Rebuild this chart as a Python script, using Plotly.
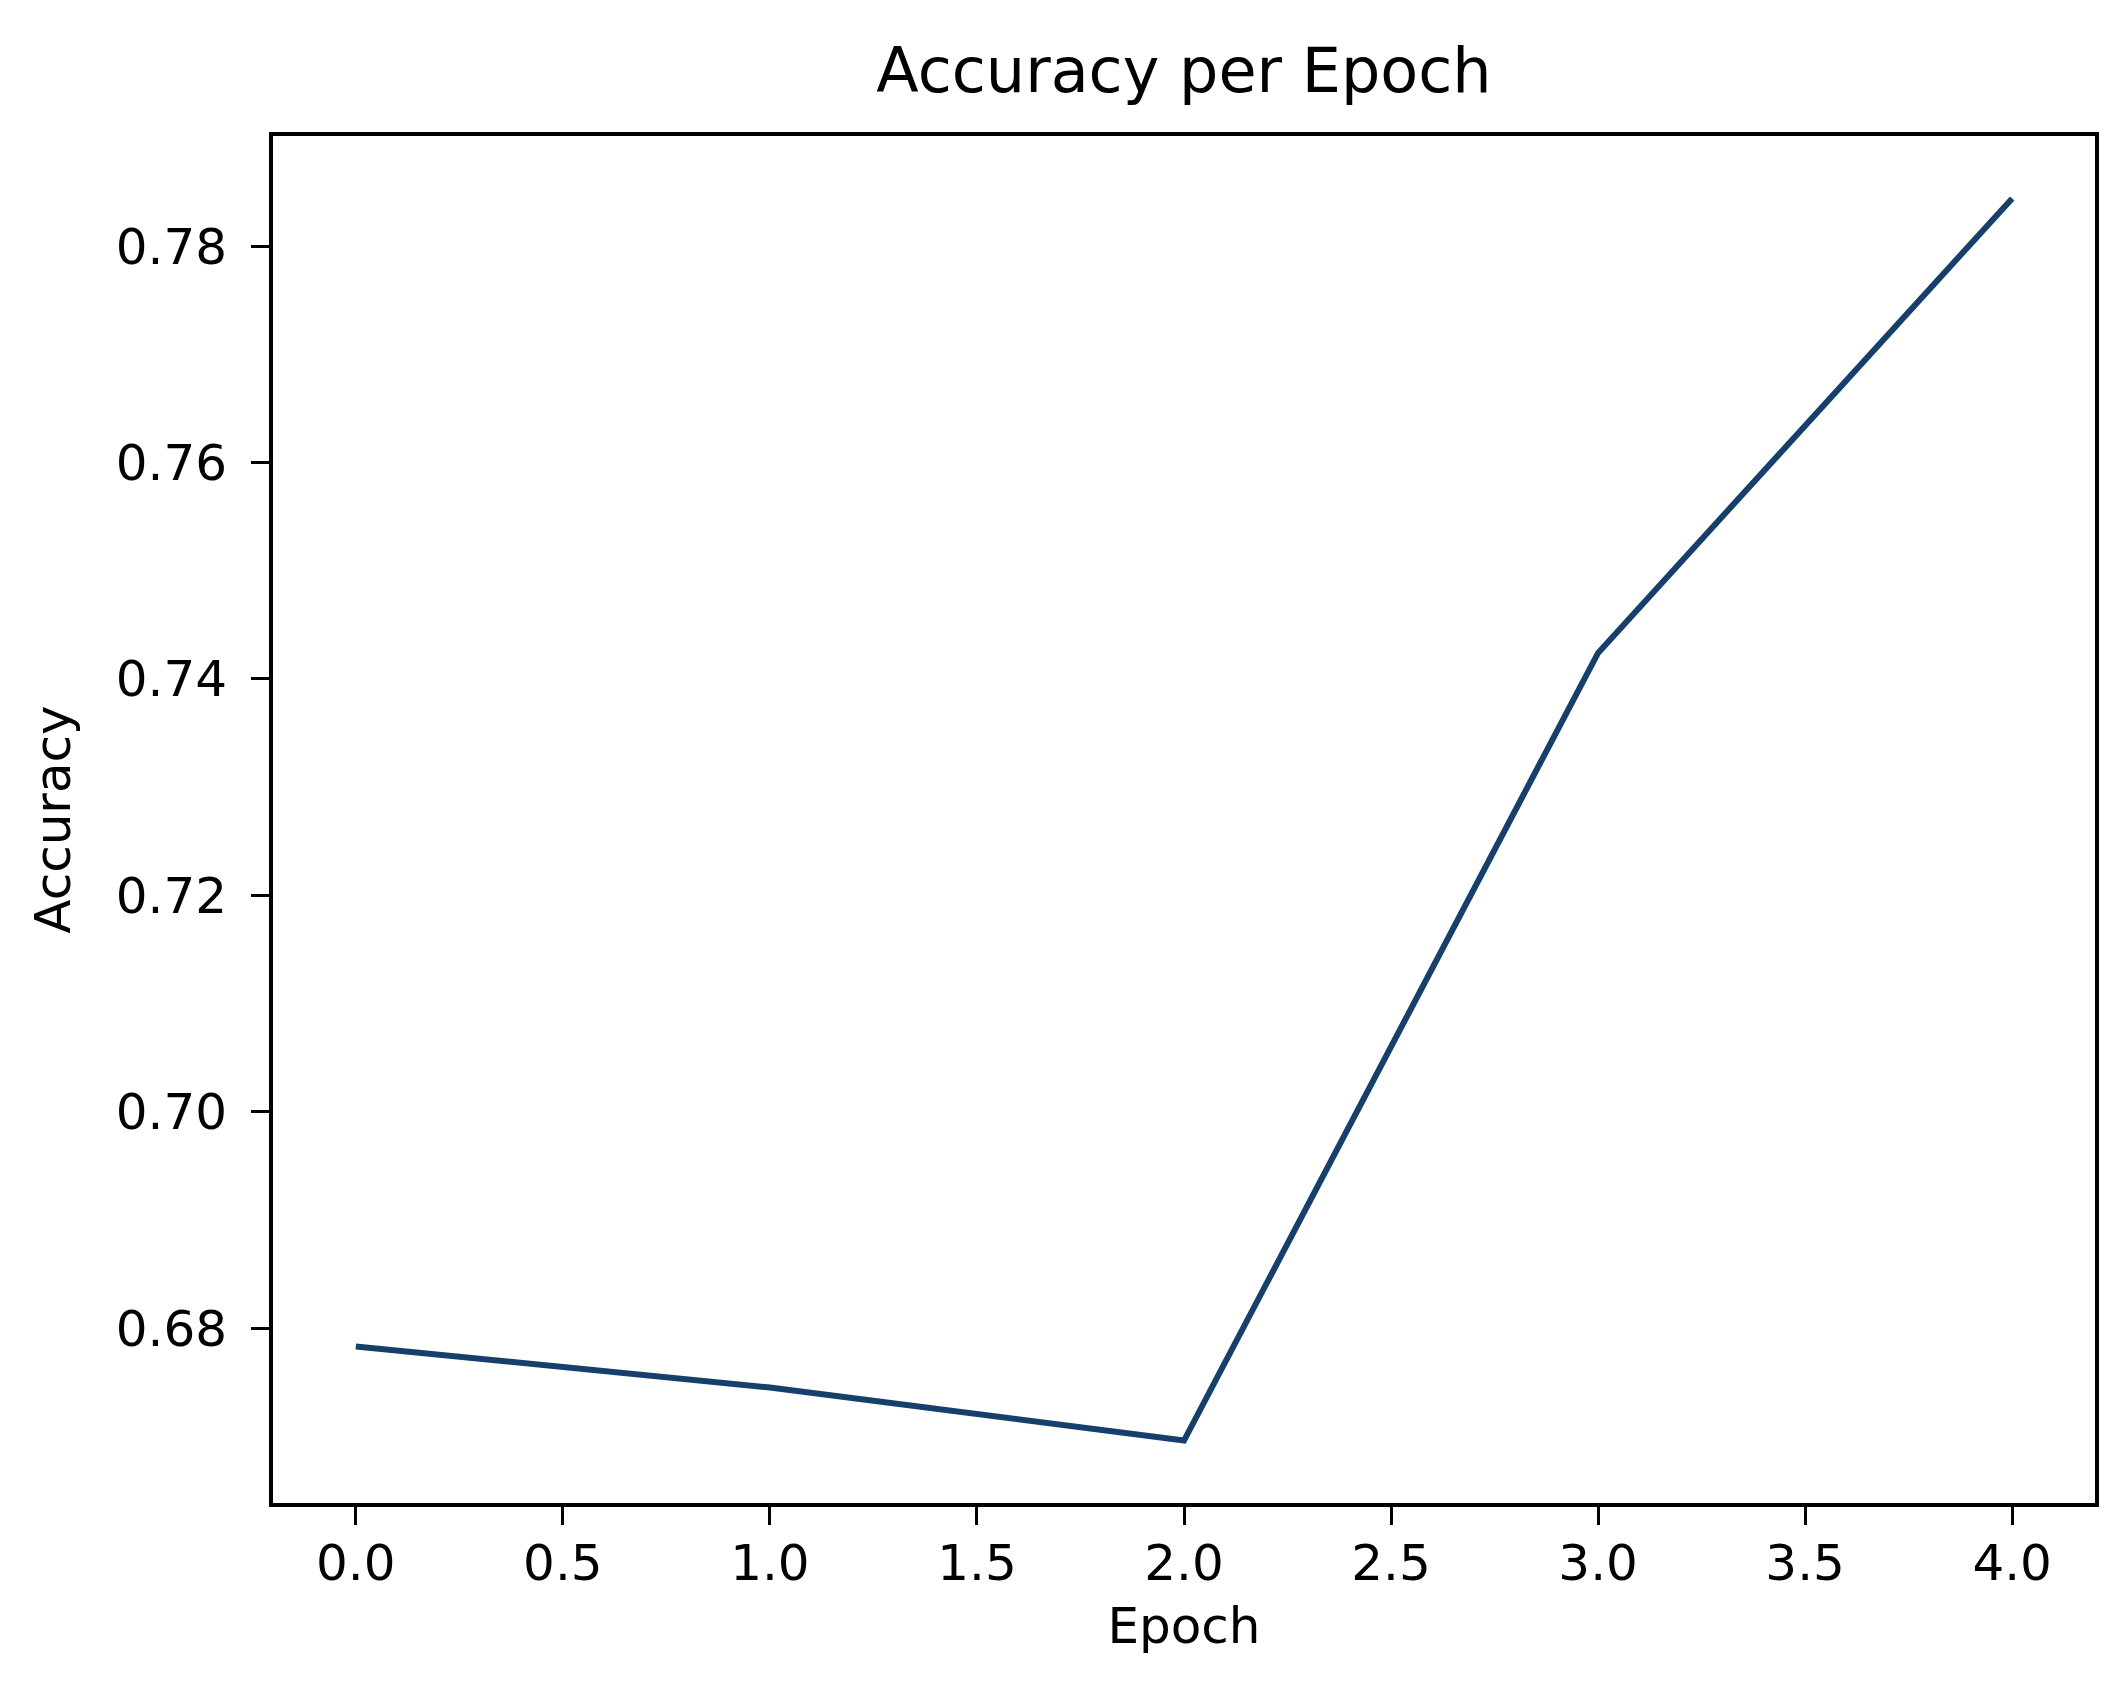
import plotly.graph_objects as go

epochs = [0, 1, 2, 3, 4]
accuracy = [0.6783, 0.6745, 0.6696, 0.7424, 0.7844]

x_ticks = [0.0, 0.5, 1.0, 1.5, 2.0, 2.5, 3.0, 3.5, 4.0]
y_ticks = [0.68, 0.70, 0.72, 0.74, 0.76, 0.78]

font_family = 'DejaVu Sans'

fig = go.Figure()
fig.add_trace(go.Scatter(x=epochs, y=accuracy, mode='lines',
                         line=dict(color='#173f6c', width=6), showlegend=False))

fig.update_layout(
    width=2120, height=1703,
    margin=dict(l=265, r=33, t=128, b=208),
    paper_bgcolor='white', plot_bgcolor='white',
    font=dict(family=font_family, color='black', size=50),
    title=dict(text='Accuracy per Epoch', x=0.5, xref='paper', xanchor='center',
               y=1 - 62 / 1703, yref='container', yanchor='middle',
               font=dict(size=62, family=font_family, color='black')),
)
fig.update_xaxes(range=[-0.2, 4.2], tickvals=x_ticks, ticktext=['%.1f' % v for v in x_ticks],
                 showgrid=False, zeroline=False, showline=True, linecolor='black', linewidth=4,
                 mirror=True, ticks='outside', ticklen=18, tickwidth=3, tickcolor='black',
                 ticklabelstandoff=-5,
                 title=dict(text='Epoch', font=dict(size=50), standoff=18))
fig.update_yaxes(range=[0.66383, 0.79017], tickvals=y_ticks, ticktext=['%.2f' % v for v in y_ticks],
                 showgrid=False, zeroline=False, showline=True, linecolor='black', linewidth=4,
                 mirror=True, ticks='outside', ticklen=18, tickwidth=3, tickcolor='black',
                 ticklabelstandoff=14,
                 title=dict(text='Accuracy', font=dict(size=50), standoff=30))

fig.write_html("out.html")
